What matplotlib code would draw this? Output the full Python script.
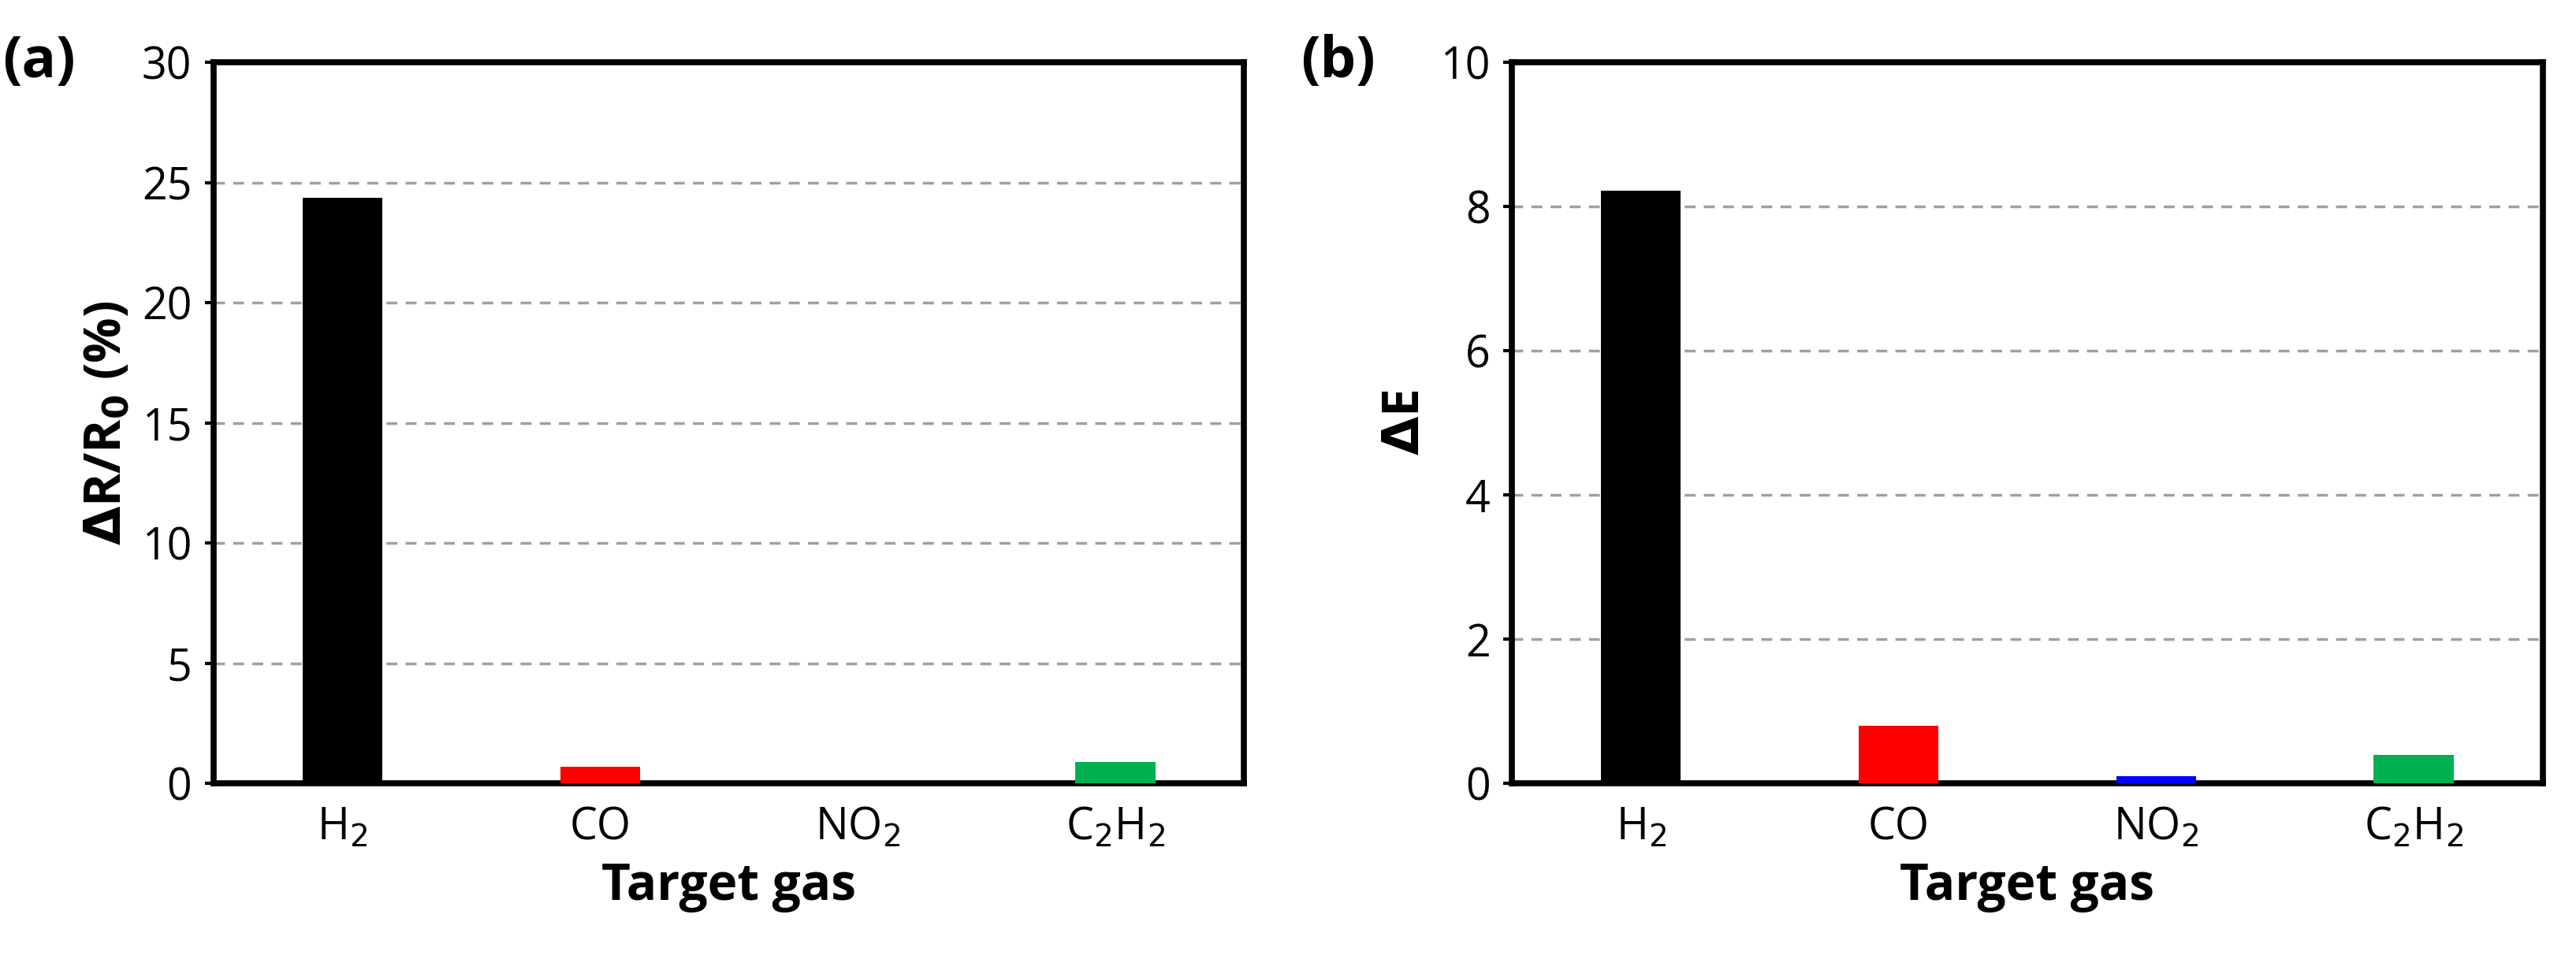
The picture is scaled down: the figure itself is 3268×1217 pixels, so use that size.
import matplotlib
matplotlib.use('Agg')
import matplotlib.pyplot as plt

plt.rcParams['font.family'] = ['Open Sans', 'DejaVu Sans']

gases = ['H$_2$', 'CO', 'NO$_2$', 'C$_2$H$_2$']
colors = ['#000000', '#ff0000', '#0000ff', '#00b050']
resp_a = [24.35, 0.7, 0.0, 0.9]
resp_b = [8.22, 0.8, 0.1, 0.4]

fig = plt.figure(figsize=(32.68, 12.17), dpi=100)
ax1 = fig.add_axes([0.083, 0.183, 0.400, 0.752])
ax2 = fig.add_axes([0.587, 0.183, 0.400, 0.752])

def style(ax, vals, ymax, step, ylabel, tag):
    x = range(len(vals))
    ax.bar(x, vals, width=0.31, color=colors, zorder=3)
    ax.set_xlim(-0.5, 3.5)
    ax.set_ylim(0, ymax)
    ax.set_yticks([i * step for i in range(int(ymax / step) + 1)])
    ax.set_xticks(list(x))
    ax.set_xticklabels(gases)
    ax.tick_params(axis='x', length=0, labelsize=40, pad=20)
    ax.tick_params(axis='y', length=8, width=3, labelsize=40, pad=12)
    for s in ax.spines.values():
        s.set_linewidth(5.5)
    ax.yaxis.grid(True, linestyle=(0, (4, 3)), color='#a0a0a0', linewidth=2.5, zorder=0)
    ax.set_xlabel('Target gas', fontsize=46, fontweight='bold', labelpad=10)
    ax.set_ylabel(ylabel, fontsize=46, fontweight='bold', labelpad=8)
    ax.text(-0.205, 1.0, tag, transform=ax.transAxes, fontsize=52,
            fontweight='bold', va='center', ha='left')

style(ax1, resp_a, 30, 5, r'$\mathbf{\Delta}$R/R$_\mathbf{0}$ (%)', '(a)')
style(ax2, resp_b, 10, 2, r'$\mathbf{\Delta}$E', '(b)')

fig.savefig('out.png', dpi=100)
